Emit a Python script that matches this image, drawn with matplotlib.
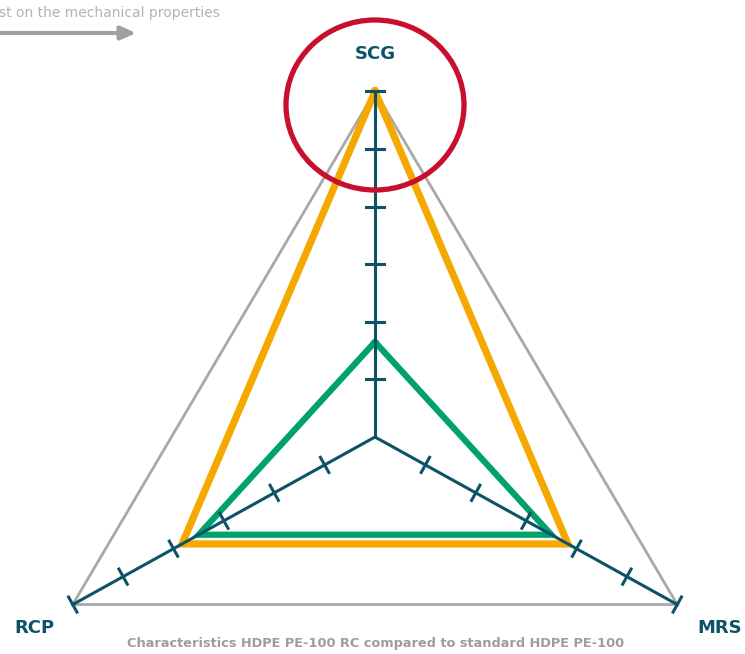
import numpy as np
import matplotlib.pyplot as plt
from matplotlib.patches import Ellipse

# data
axis_names = ['SCG', 'MRS', 'RCP']
axis_angles = [90, -29, 209]          # degrees
n_ticks = 6
scale_max = 6
frame = [6, 6, 6]
rc_values = [6, 3.83, 3.83]           # orange: HDPE PE-100 RC
std_values = [1.65, 3.5, 3.5]         # green: standard HDPE PE-100

teal = '#0b5468'
gray = '#a8a8a8'
orange = '#f5a800'
green = '#00a26b'
red = '#c8102e'

unit = 57.6           # px per unit
cx, cy = 375, 437     # center in px
W, H = 745, 654

fig = plt.figure(figsize=(W / 100, H / 100), dpi=100)
ax = fig.add_axes([0, 0, 1, 1])
ax.set_xlim(-cx / unit, (W - cx) / unit)
ax.set_ylim((cy - H) / unit, cy / unit)
ax.axis('off')

ang = np.deg2rad(axis_angles)


def xy(vals):
    v = np.asarray(vals, dtype=float)
    x = v * np.cos(ang)
    y = v * np.sin(ang)
    return np.append(x, x[0]), np.append(y, y[0])


x, y = xy(frame)
ax.plot(x, y, color=gray, lw=2, zorder=1)
x, y = xy(rc_values)
ax.plot(x, y, color=orange, lw=5.2, solid_joinstyle='miter', zorder=2)
x, y = xy(std_values)
ax.plot(x, y, color=green, lw=4.5, solid_joinstyle='miter', zorder=3)

# axes with ticks
tick_half = 0.15
for a in ang:
    ax.plot([0, scale_max * np.cos(a)], [0, scale_max * np.sin(a)], color=teal, lw=2.2, zorder=4)
    px, py = -np.sin(a), np.cos(a)
    for k in range(1, n_ticks + 1):
        r = k * scale_max / n_ticks
        tx, ty = r * np.cos(a), r * np.sin(a)
        ax.plot([tx - px * tick_half, tx + px * tick_half], [ty - py * tick_half, ty + py * tick_half],
                color=teal, lw=2.2, zorder=4)

# highlight circle around SCG
ax.add_patch(Ellipse((0, (cy - 105) / unit), 178 / unit, 170 / unit, fill=False,
                     edgecolor=red, lw=3.8, zorder=5))

lab_font = dict(fontsize=13, fontweight='bold', color=teal, family='DejaVu Sans', ha='center', va='center')
ax.text(0, (cy - 54) / unit, axis_names[0], **lab_font)
ax.text((720 - cx) / unit, (cy - 628) / unit, axis_names[1], **lab_font)
ax.text((34 - cx) / unit, (cy - 628) / unit, axis_names[2], **lab_font)

ax.text((376 - cx) / unit, (cy - 643) / unit,
        'Characteristics HDPE PE-100 RC compared to standard HDPE PE-100',
        fontsize=9.3, fontweight='bold', color='#9d9d9d', family='DejaVu Sans', ha='center', va='center')

ax.text((220 - cx) / unit, (cy - 13) / unit, 'st on the mechanical properties',
        fontsize=10, color='#b3b3b3', family='DejaVu Sans', ha='right', va='center')
ax.annotate('', xy=((139 - cx) / unit, (cy - 33) / unit), xytext=(-cx / unit - 0.2, (cy - 33) / unit),
            arrowprops=dict(arrowstyle='-|>,head_length=0.9,head_width=0.4', color='#a0a0a0', lw=3))

fig.savefig('out.png', dpi=100)
